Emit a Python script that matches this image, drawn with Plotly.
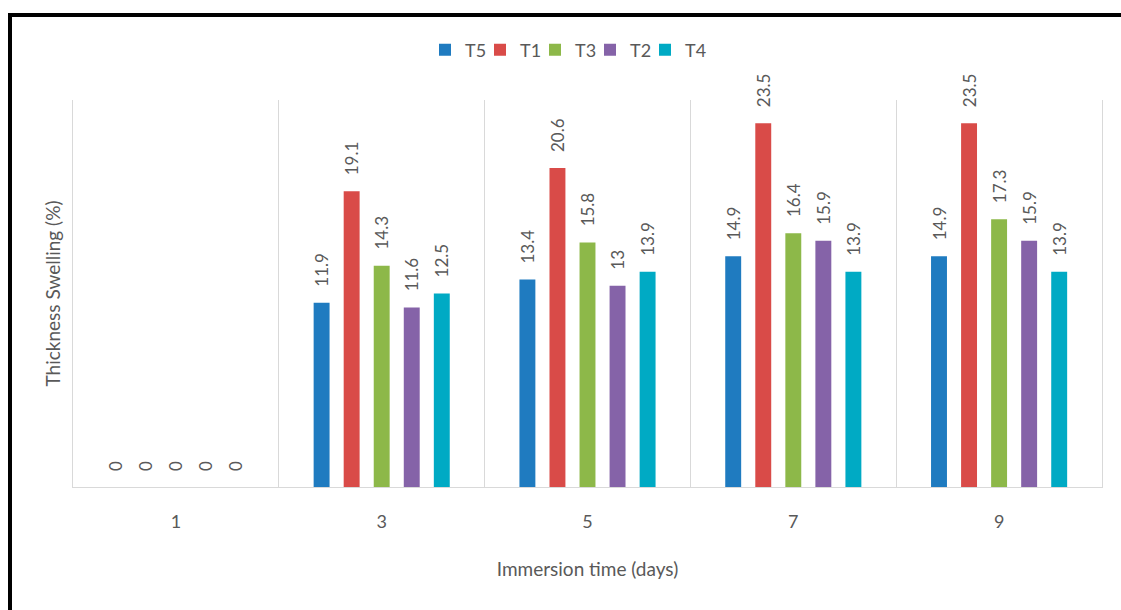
import plotly.graph_objects as go

categories = ["1", "3", "5", "7", "9"]
series_names = ["T5", "T1", "T3", "T2", "T4"]
T5 = [0, 11.9, 13.4, 14.9, 14.9]
T1 = [0, 19.1, 20.6, 23.5, 23.5]
T3 = [0, 14.3, 15.8, 16.4, 17.3]
T2 = [0, 11.6, 13, 15.9, 15.9]
T4 = [0, 12.5, 13.9, 13.9, 13.9]
values = [T5, T1, T3, T2, T4]
colors = ["#1F7BC0", "#D94B48", "#8DB849", "#8563A8", "#00AAC4"]

FONT = "Lato"
GRAY = "#595959"
PAD = "\u00a0" * 3  # lifts the rotated labels off the bar tops

fig = go.Figure()
for name, vals, col in zip(series_names, values, colors):
    fig.add_trace(go.Bar(
        x=categories, y=vals, name=name,
        marker=dict(color=col, line=dict(width=0)),
        text=[PAD + f"{v:g}" for v in vals],
        textposition="outside", textangle=-90, constraintext="none",
        textfont=dict(family=FONT, size=17, color=GRAY),
        cliponaxis=False,
    ))
# invisible spacer entry so the last legend label is not clipped
fig.add_trace(go.Scatter(x=[None], y=[None], name=" ", mode="markers",
                         marker=dict(color="rgba(0,0,0,0)"), hoverinfo="skip"))

L, R, T, B = 73, 1102, 100, 487
W, H = 1121, 610
pw, ph = R - L, B - T

def px(x):
    return (x - L) / pw

def py(y):
    return (B - y) / ph

fig.update_layout(
    width=W, height=H,
    margin=dict(l=L, r=W - R, t=T, b=H - B, autoexpand=False),
    paper_bgcolor="white", plot_bgcolor="white",
    barmode="group", bargap=0.27, bargroupgap=0.47,
    font=dict(family=FONT, color=GRAY, size=17),
    uniformtext=dict(minsize=17, mode="show"),
    legend=dict(orientation="h", x=px(425), xanchor="left", y=py(50), yanchor="middle",
                font=dict(size=18, color=GRAY), itemwidth=30, traceorder="normal",
                entrywidth=10, entrywidthmode="pixels"),
    xaxis=dict(type="category", tickson="boundaries", showgrid=True, gridcolor="#D9D9D9",
               gridwidth=1, showline=True, linecolor="#D9D9D9", ticks="",
               ticklabelstandoff=18,
               tickfont=dict(size=18, color=GRAY),
               title=dict(text="Immersion time (days)", font=dict(size=19, color=GRAY), standoff=32)),
    yaxis=dict(range=[0, 25], showgrid=False, zeroline=False, showticklabels=False,
               showline=True, mirror=True, linecolor="#D9D9D9", ticks="",
               title=dict(text="Thickness Swelling (%)", font=dict(size=19, color=GRAY), standoff=6)),
    shapes=[dict(type="rect", xref="paper", yref="paper",
                 x0=px(10), y0=py(700), x1=px(1300), y1=py(15),
                 line=dict(color="black", width=4), fillcolor="rgba(0,0,0,0)", layer="above")],
)

fig.write_html("out.html")
